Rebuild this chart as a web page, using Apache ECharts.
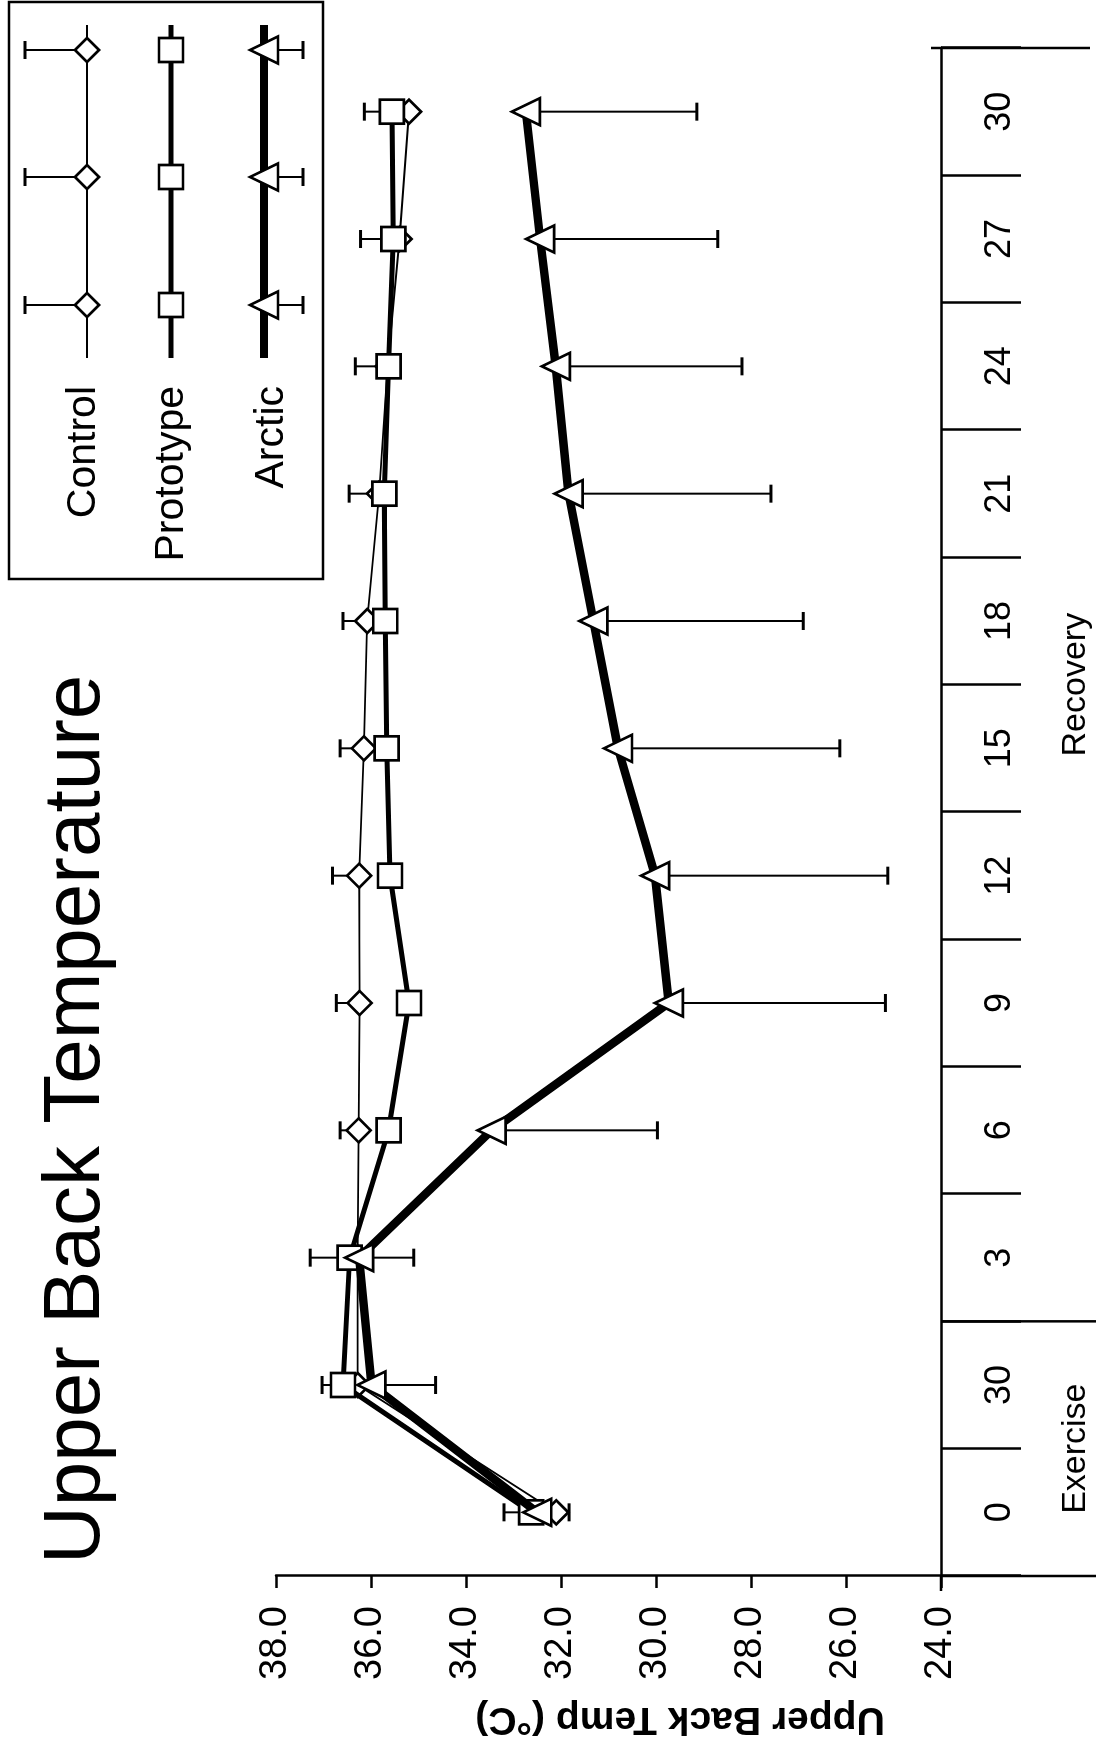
<!DOCTYPE html>
<html>
<head>
<meta charset="utf-8">
<script src="https://cdn.jsdelivr.net/npm/echarts@6/dist/echarts.min.js"></script>
<style>
  html, body { margin: 0; padding: 0; background: #fff; }
  #wrap { position: relative; width: 1103px; height: 1745px; overflow: hidden; background: #fff; }
  #chart { position: absolute; left: 0; top: 0; width: 1745px; height: 1103px;
           transform-origin: 0 0; transform: translate(0px, 1745px) rotate(-90deg); }
</style>
</head>
<body>
<div id="wrap"><div id="chart"></div></div>
<script>
// ---------------- data ----------------
const categories = ['Exercise 0', 'Exercise 30', 'Recovery 3', 'Recovery 6', 'Recovery 9', 'Recovery 12',
                    'Recovery 15', 'Recovery 18', 'Recovery 21', 'Recovery 24', 'Recovery 27', 'Recovery 30'];
const tickLabels = ['0', '30', '3', '6', '9', '12', '15', '18', '21', '24', '27', '30'];
const groupNames = ['Exercise', 'Recovery'];
const groupStart = [0, 2];
const groupEnd = [2, 12];

const control       = [32.10, 36.28, 36.28, 36.26, 36.24, 36.25, 36.15, 36.08, 35.83, 35.65, 35.40, 35.20];
const controlErrUp  = [1.10, 0.75, 1.00, 0.39, 0.49, 0.56, 0.50, 0.51, 0.63, 0.68, 0.82, 0.94];
const prototype     = [32.63, 36.59, 36.45, 35.63, 35.20, 35.60, 35.67, 35.70, 35.72, 35.63, 35.53, 35.56];
const arctic        = [32.50, 35.99, 36.25, 33.46, 29.73, 30.02, 30.80, 31.32, 31.84, 32.11, 32.44, 32.74];
const arcticErrDown = [0.67, 1.35, 1.15, 3.49, 4.56, 4.90, 4.67, 4.42, 4.26, 3.92, 3.74, 3.60];

const valueMin = 24, valueMax = 38, valueStep = 2;
const titleText = 'Upper Back Temperature';
const yAxisTitle = 'Upper Back Temp (°C)';
const seriesNames = ['Control', 'Prototype', 'Arctic'];

// ---------------- layout (landscape canvas, rotated by CSS) ----------------
const W = 1745, H = 1103;
const G = { left: 169, right: 48, top: 276, bottom: 162 };
const FONT = "'Liberation Sans', Arial, Helvetica, sans-serif";
const X0 = G.left, X1 = W - G.right, YA = H - G.bottom;
const band = (X1 - X0) / categories.length;

function errRender(dir) {
  return function (params, api) {
    const i = api.value(0), v = api.value(1), e = api.value(2);
    const p0 = api.coord([i, v]);
    const p1 = api.coord([i, v + dir * e]);
    const cap = 9;
    return {
      type: 'group',
      children: [
        { type: 'line', shape: { x1: p0[0], y1: p0[1], x2: p1[0], y2: p1[1] },
          style: { stroke: '#000', lineWidth: 2 } },
        { type: 'line', shape: { x1: p1[0] - cap, y1: p1[1], x2: p1[0] + cap, y2: p1[1] },
          style: { stroke: '#000', lineWidth: 3 } }
      ]
    };
  };
}

const symStyle = { color: '#fff', borderColor: '#000', borderWidth: 2.7, opacity: 1 };

// ---------------- graphic decorations ----------------
const graphics = [];
// title
graphics.push({ type: 'text', x: 181, y: 77, style: { text: titleText, font: '80px ' + FONT, fill: '#000', align: 'left', verticalAlign: 'middle' } });
// y axis title (rotated)
graphics.push({ type: 'text', x: 26, y: 680, rotation: Math.PI / 2,
  style: { text: yAxisTitle, font: 'bold 39px ' + FONT, fill: '#000', align: 'center', verticalAlign: 'middle' } });
// axis extensions & group separators
graphics.push({ type: 'line', shape: { x1: X0, y1: YA, x2: X0, y2: 1096 }, style: { stroke: '#000', lineWidth: 2.5 } });
graphics.push({ type: 'line', shape: { x1: X0 - 15, y1: YA, x2: X0, y2: YA }, style: { stroke: '#000', lineWidth: 2.5 } });
graphics.push({ type: 'line', shape: { x1: X0 + band * groupStart[1], y1: YA, x2: X0 + band * groupStart[1], y2: 1096 }, style: { stroke: '#000', lineWidth: 2.5 } });
graphics.push({ type: 'line', shape: { x1: X1, y1: YA - 10, x2: X1, y2: 1090 }, style: { stroke: '#000', lineWidth: 2.5 } });
// group labels
for (let g = 0; g < groupNames.length; g++) {
  graphics.push({ type: 'text', x: X0 + band * (groupStart[g] + groupEnd[g]) / 2, y: 1076,
    style: { text: groupNames[g], font: '34px ' + FONT, fill: '#000', align: 'center', verticalAlign: 'middle' } });
}
// legend box
graphics.push({ type: 'rect', shape: { x: 1166, y: 9, width: 577, height: 314 }, style: { fill: 'none', stroke: '#000', lineWidth: 2.5 } });
const legRows = [87, 171, 264];
const legText = [84, 172, 272];
const legWidth = [1.8, 5, 8];
const legSymX = [1440, 1568, 1695];
for (let r = 0; r < 3; r++) {
  const y = legRows[r];
  graphics.push({ type: 'text', x: 1359, y: legText[r], style: { text: seriesNames[r], font: '41px ' + FONT, fill: '#000', align: 'right', verticalAlign: 'middle' } });
  graphics.push({ type: 'line', shape: { x1: 1387, y1: y, x2: 1720, y2: y }, style: { stroke: '#000', lineWidth: legWidth[r] } });
  for (const sx of legSymX) {
    if (r === 0) {
      graphics.push({ type: 'line', shape: { x1: sx, y1: y, x2: sx, y2: 25 }, style: { stroke: '#000', lineWidth: 2 } });
      graphics.push({ type: 'line', shape: { x1: sx - 9, y1: 25, x2: sx + 9, y2: 25 }, style: { stroke: '#000', lineWidth: 3 } });
      graphics.push({ type: 'polygon', shape: { points: [[sx, y - 12], [sx + 12, y], [sx, y + 12], [sx - 12, y]] }, style: { fill: '#fff', stroke: '#000', lineWidth: 2.7 } });
    } else if (r === 1) {
      graphics.push({ type: 'rect', shape: { x: sx - 12, y: y - 12, width: 24, height: 24 }, style: { fill: '#fff', stroke: '#000', lineWidth: 2.7 } });
    } else {
      graphics.push({ type: 'line', shape: { x1: sx, y1: y, x2: sx, y2: 303 }, style: { stroke: '#000', lineWidth: 2 } });
      graphics.push({ type: 'line', shape: { x1: sx - 9, y1: 303, x2: sx + 9, y2: 303 }, style: { stroke: '#000', lineWidth: 3 } });
      graphics.push({ type: 'polygon', shape: { points: [[sx, y - 14], [sx + 13.5, y + 14], [sx - 13.5, y + 14]] }, style: { fill: '#fff', stroke: '#000', lineWidth: 2.7 } });
    }
  }
}

const chart = echarts.init(document.getElementById('chart'), null, { renderer: 'canvas', width: W, height: H });
chart.setOption({
  animation: false,
  backgroundColor: '#fff',
  grid: G,
  xAxis: {
    type: 'category', data: categories, boundaryGap: true,
    axisLine: { show: true, lineStyle: { color: '#000', width: 2.5 } },
    axisTick: { show: true, interval: 0, length: 80, lineStyle: { color: '#000', width: 2.5 } },
    axisLabel: { interval: 0, margin: 41, fontSize: 36, fontFamily: FONT, color: '#000',
                 formatter: (v, i) => tickLabels[i] },
    splitLine: { show: false }
  },
  yAxis: {
    type: 'value', min: valueMin, max: valueMax, interval: valueStep,
    axisLine: { show: true, lineStyle: { color: '#000', width: 2.5 } },
    axisTick: { show: true, length: 12, lineStyle: { color: '#000', width: 2.5 } },
    axisLabel: { margin: 30, fontSize: 38, fontFamily: FONT, color: '#000', formatter: v => v.toFixed(1) },
    splitLine: { show: false }
  },
  graphic: graphics,
  series: [
    { type: 'custom', name: 'Control error', z: 1, renderItem: errRender(1), encode: { x: 0, y: 1 },
      data: control.map((v, i) => [i, v, controlErrUp[i]]) },
    { type: 'custom', name: 'Arctic error', z: 1, renderItem: errRender(-1), encode: { x: 0, y: 1 },
      data: arctic.map((v, i) => [i, v, arcticErrDown[i]]) },
    { type: 'line', name: seriesNames[0], z: 2, data: control, symbol: 'diamond', symbolSize: 24, showAllSymbol: true,
      lineStyle: { color: '#000', width: 1.8 }, itemStyle: symStyle },
    { type: 'line', name: seriesNames[1], z: 3, data: prototype, symbol: 'rect', symbolSize: 24, showAllSymbol: true,
      lineStyle: { color: '#000', width: 5 }, itemStyle: symStyle },
    { type: 'line', name: seriesNames[2], z: 4, data: arctic, symbol: 'triangle', symbolSize: [27, 28], showAllSymbol: true,
      lineStyle: { color: '#000', width: 8.5 }, itemStyle: symStyle }
  ]
});
</script>
</body>
</html>
